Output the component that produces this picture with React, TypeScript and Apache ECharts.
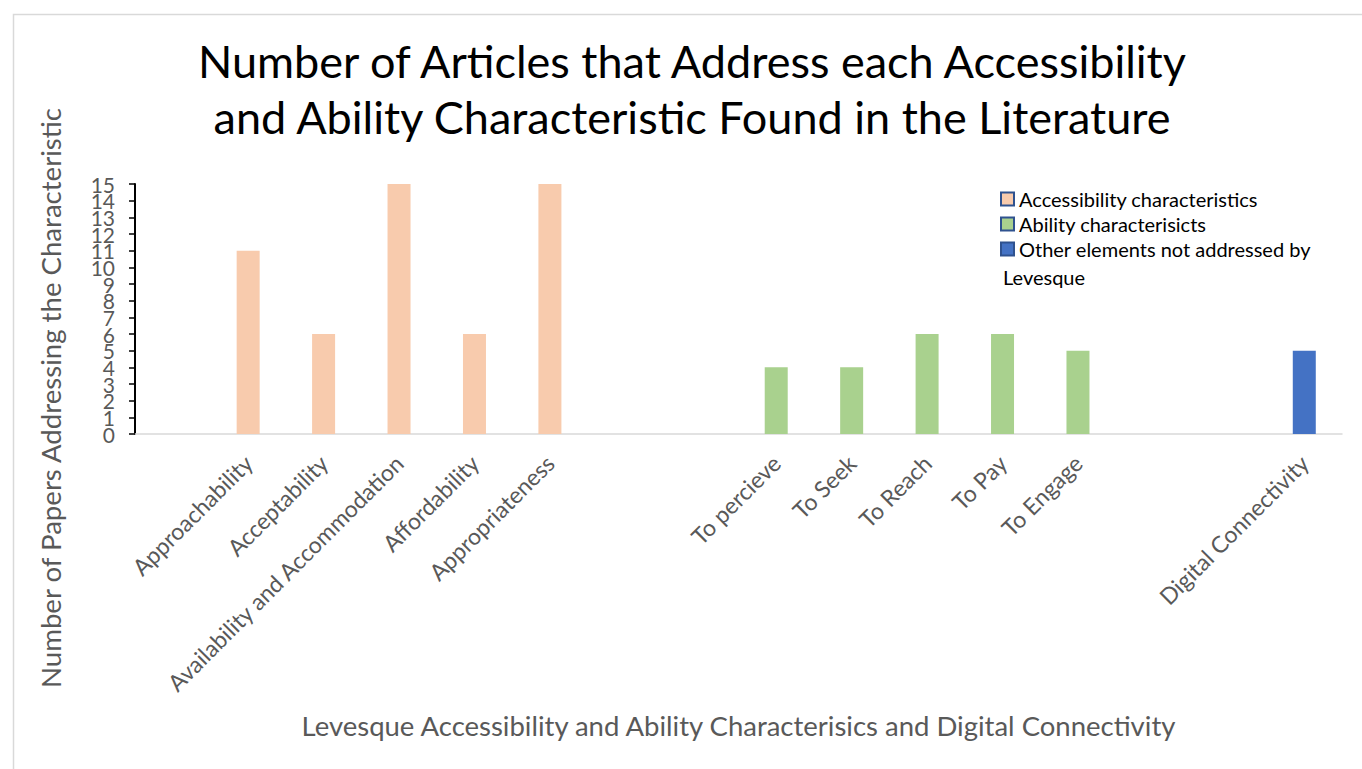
import React, { useEffect, useRef } from "react";
import * as echarts from "echarts";

const categories: string[] = [
  "",
  "Approachability",
  "Acceptability",
  "Availability and Accommodation",
  "Affordability",
  "Appropriateness",
  "",
  "",
  "To percieve",
  "To Seek",
  "To Reach",
  "To Pay",
  "To Engage",
  "",
  "",
  "Digital Connectivity",
];

const accessibilityValues: (number | string)[] = ["-", 11, 6, 15, 6, 15, "-", "-", "-", "-", "-", "-", "-", "-", "-", "-"];
const abilityValues: (number | string)[] = ["-", "-", "-", "-", "-", "-", "-", "-", 4, 4, 6, 6, 5, "-", "-", "-"];
const otherValues: (number | string)[] = ["-", "-", "-", "-", "-", "-", "-", "-", "-", "-", "-", "-", "-", "-", "-", 5];

const yTickLabels: string[] = ["0", "1", "2", "3", "4", "5", "6", "7", "8", "9", "10", "11", "12", "13", "14", "15"];

const seriesNames = [
  "Accessibility characteristics",
  "Ability characterisicts",
  "Other elements not addressed by Levesque",
];

const titleText = "Number of Articles that Address each Accessibility\nand Ability Characteristic Found in the Literature";
const xAxisTitle = "Levesque Accessibility and Ability Characterisics and Digital Connectivity";
const yAxisTitle = "Number of Papers Addressing the Characteristic";

const FONT = "Lato, 'Open Sans', sans-serif";
const GRAY = "#595959";

export default function App() {
  const ref = useRef<HTMLDivElement>(null);

  useEffect(() => {
    if (!ref.current) return;
    const chart = echarts.init(ref.current, undefined, { renderer: "svg" });
    const colors = ["#F8CBAD", "#A9D18E", "#4472C4"];
    const values = [accessibilityValues, abilityValues, otherValues];
    chart.setOption({
      animation: false,
      backgroundColor: "#ffffff",
      textStyle: { fontFamily: FONT },
      title: {
        text: titleText,
        left: 692,
        textAlign: "center",
        top: 33,
        padding: 0,
        textStyle: {
          fontFamily: FONT,
          fontSize: 45,
          fontWeight: "normal",
          color: "#000000",
          lineHeight: 56,
        },
      },
      legend: {
        orient: "vertical",
        left: 1000,
        top: 189,
        padding: 0,
        itemWidth: 13,
        itemHeight: 13,
        itemGap: 5,
        icon: "rect",
        data: seriesNames,
        formatter: (name: string) =>
          name === seriesNames[2] ? "Other elements not addressed by" : name,
        textStyle: { fontFamily: FONT, fontSize: 20, color: "#000000" },
        itemStyle: { borderColor: "#2F528F", borderWidth: 2 },
      },
      grid: { left: 135, right: 20, top: 184, bottom: 335 },
      xAxis: {
        type: "category",
        data: categories,
        name: xAxisTitle,
        nameLocation: "middle",
        nameGap: 277,
        nameTextStyle: { fontFamily: FONT, fontSize: 27.5, color: GRAY },
        axisLine: { show: true, lineStyle: { color: "#D9D9D9", width: 1.5 } },
        axisTick: { show: false },
        axisLabel: {
          interval: 0,
          rotate: 45,
          margin: 25,
          fontFamily: FONT,
          fontSize: 23,
          color: GRAY,
        },
      },
      yAxis: [
        {
          type: "value",
          min: 0,
          max: 15,
          interval: 1,
          axisLine: { show: true, lineStyle: { color: "#000000", width: 2 } },
          axisTick: { show: true, length: 6, lineStyle: { color: "#000000", width: 1.5 } },
          splitLine: { show: false },
          axisLabel: { show: false },
        },
        {
          type: "category",
          data: yTickLabels,
          boundaryGap: false,
          position: "left",
          axisLine: { show: false },
          axisTick: { show: false },
          splitLine: { show: false },
          axisLabel: {
            interval: 0,
            margin: 20,
            fontFamily: FONT,
            fontSize: 21,
            lineHeight: 14,
            color: GRAY,
          },
        },
      ],
      graphic: [
        {
          type: "rect",
          left: 11,
          top: 12,
          shape: { width: 1400, height: 800 },
          style: { fill: "none", stroke: "#D9D9D9", lineWidth: 1.5 },
          silent: true,
          z: -10,
        },
        {
          type: "text",
          x: 50,
          y: 398,
          rotation: Math.PI / 2,
          style: {
            text: yAxisTitle,
            fontFamily: FONT,
            fontSize: 27.6,
            fill: GRAY,
            textAlign: "center",
            textVerticalAlign: "middle",
          },
        },
        {
          type: "text",
          x: 1003,
          y: 277,
          style: {
            text: "Levesque",
            fontFamily: FONT,
            fontSize: 20,
            fill: "#000000",
            textAlign: "left",
            textVerticalAlign: "middle",
          },
        },
      ],
      series: seriesNames.map((name, i) => ({
        name,
        type: "bar",
        stack: "all",
        barWidth: 23,
        yAxisIndex: 0,
        data: values[i],
        itemStyle: { color: colors[i] },
      })),
    });
    return () => chart.dispose();
  }, []);

  return (
    <div
      ref={ref}
      style={{ position: "absolute", left: 0, top: 0, width: 1362, height: 769 }}
    />
  );
}
